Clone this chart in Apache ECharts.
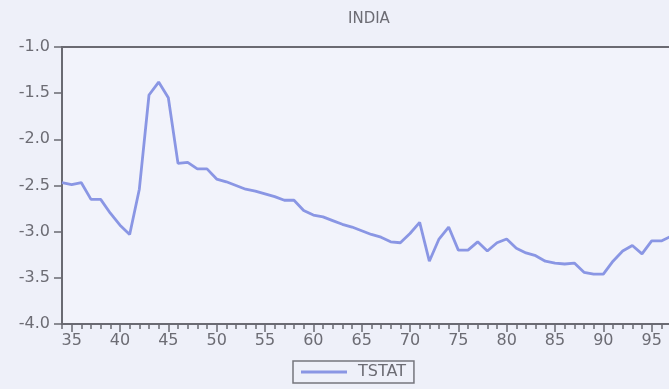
<!DOCTYPE html>
<html>
<head>
<meta charset="utf-8">
<script src="https://cdn.jsdelivr.net/npm/echarts@6/dist/echarts.min.js"></script>
<style>
  html, body { margin: 0; padding: 0; background: #eef0f9; }
  #chart { width: 669px; height: 389px; }
</style>
</head>
<body>
<div id="chart"></div>
<script>
const years = [];
for (let y = 1934; y <= 1997; y++) years.push(String(y));

const tstat = [
  -2.47, -2.49, -2.47, -2.65, -2.65, -2.80, -2.93, -3.03, -2.54, -1.52,
  -1.38, -1.55, -2.26, -2.25, -2.32, -2.32, -2.43, -2.46, -2.50, -2.54,
  -2.56, -2.59, -2.62, -2.66, -2.66, -2.77, -2.82, -2.84, -2.88, -2.92,
  -2.95, -2.99, -3.03, -3.06, -3.11, -3.12, -3.02, -2.90, -3.32, -3.08,
  -2.95, -3.20, -3.20, -3.11, -3.21, -3.12, -3.08, -3.18, -3.23, -3.26,
  -3.32, -3.34, -3.35, -3.34, -3.44, -3.46, -3.46, -3.32, -3.21, -3.15,
  -3.24, -3.10, -3.10, -3.05
];

const yTicks = { min: -4.0, max: -1.0, step: 0.5 };

const chart = echarts.init(document.getElementById('chart'), null, { renderer: 'canvas' });

const axisGray = '#6a6a72';
const textGray = '#6c6c74';
const font = 'DejaVu Sans';

// label only every fifth year, two-digit form
const yearLabel = v => (Number(v) % 5 === 0 ? String(Number(v) % 100) : '');

const option = {
  backgroundColor: '#eef0f9',
  animation: false,
  title: {
    text: 'INDIA',
    left: 343,
    top: 7,
    textStyle: { color: textGray, fontFamily: font, fontSize: 15, fontWeight: 'normal' }
  },
  legend: {
    data: [{ name: 'TSTAT', icon: 'rect' }],
    left: 293,
    top: 361,
    padding: [3, 8, 3, 8],
    borderColor: '#75757d',
    borderWidth: 1.5,
    itemWidth: 46,
    itemHeight: 3,
    itemGap: 10,
    textStyle: { color: textGray, fontFamily: font, fontSize: 16, padding: [0, 0, 0, 6] }
  },
  grid: {
    left: 62,
    right: -2,
    top: 47,
    bottom: 65,
    outerBoundsMode: 'none',
    containLabel: false,
    show: true,
    backgroundColor: '#f2f3fb',
    borderColor: axisGray,
    borderWidth: 2
  },
  xAxis: [
    {
      type: 'category',
      data: years,
      boundaryGap: false,
      axisLine: { lineStyle: { color: axisGray, width: 2 } },
      axisTick: { show: true, interval: 0, length: 5, lineStyle: { color: axisGray, width: 1.5 } },
      axisLabel: {
        interval: 0,
        hideOverlap: false,
        formatter: yearLabel,
        color: textGray,
        fontFamily: font,
        fontSize: 16,
        margin: 9
      },
      splitLine: { show: false }
    },
    {
      type: 'category',
      data: years,
      position: 'bottom',
      boundaryGap: false,
      axisLine: { show: false },
      axisTick: {
        show: true,
        interval: (i, v) => Number(v) % 5 === 0,
        length: 8,
        lineStyle: { color: axisGray, width: 1.5 }
      },
      axisLabel: { show: false },
      splitLine: { show: false }
    }
  ],
  yAxis: {
    type: 'value',
    min: yTicks.min,
    max: yTicks.max,
    interval: yTicks.step,
    axisLine: { show: true, lineStyle: { color: axisGray, width: 2 } },
    axisTick: { show: true, length: 8, lineStyle: { color: axisGray, width: 1.5 } },
    axisLabel: {
      formatter: v => v.toFixed(1),
      color: textGray,
      fontFamily: font,
      fontSize: 16,
      margin: 12
    },
    splitLine: { show: false }
  },
  series: [
    {
      name: 'TSTAT',
      type: 'line',
      data: tstat,
      showSymbol: false,
      color: '#8a96e4',
      lineStyle: { color: '#8a96e4', width: 2.8 }
    }
  ]
};

chart.setOption(option);
</script>
</body>
</html>
